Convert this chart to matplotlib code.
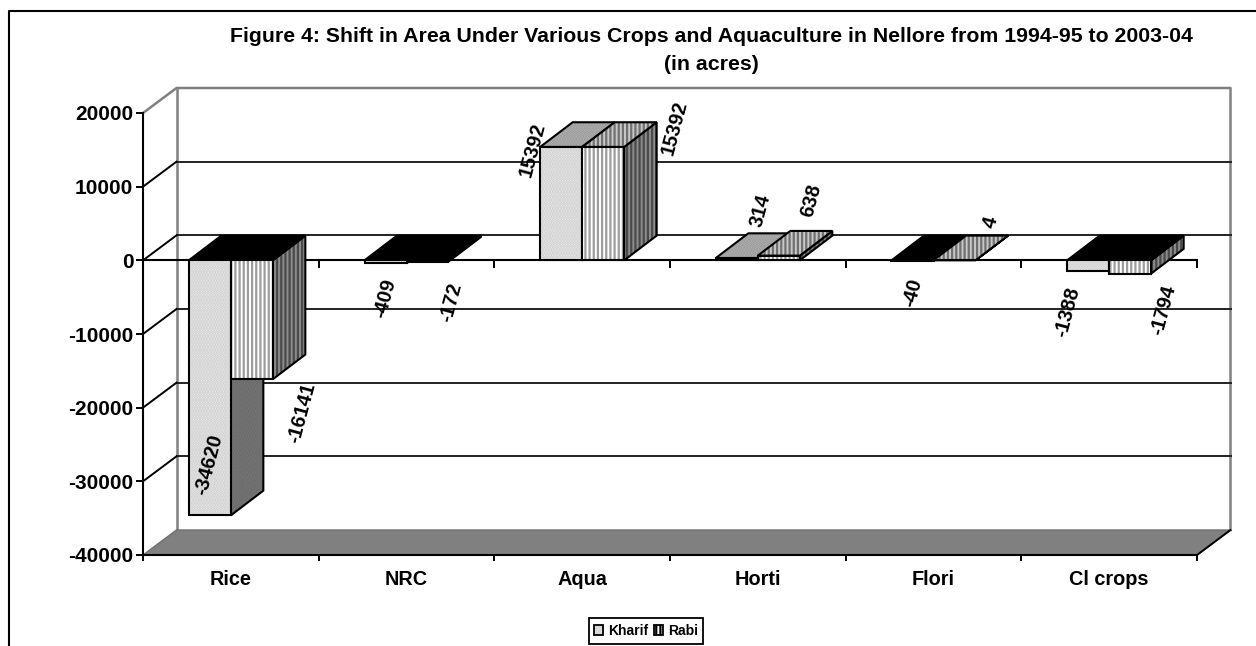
import matplotlib
matplotlib.use("Agg")
import matplotlib.pyplot as plt
from matplotlib.lines import Line2D
from matplotlib.patches import Polygon, Patch
from matplotlib.markers import TICKDOWN

categories = ["Rice", "NRC", "Aqua", "Horti", "Flori", "Cl crops"]
kharif = [-34620, -409, 15392, 314, -40, -1388]
rabi = [-16141, -172, 15392, 638, 4, -1794]
y_ticks = [-40000, -30000, -20000, -10000, 0, 10000, 20000]

# pixel offsets of the data labels from the front end of each bar
kharif_off = [(-1, 51), (0, -35), (-29, -3), (24, 47), (0, -32), (-21, -41)]
rabi_off = [(50, -34), (24, -41), (71, 19), (32, 55), (36, 38), (33, -37)]

W, H = 1256, 646
plt.rcParams["font.family"] = ["Liberation Sans", "DejaVu Sans"]
plt.rcParams["font.weight"] = "bold"
plt.rcParams["hatch.linewidth"] = 1.6

fig = plt.figure(figsize=(W / 100, H / 100), dpi=100, facecolor="white")
L, R, T, B = 143, 1197, 113, 555
ax = fig.add_axes([L / W, 1 - B / H, (R - L) / W, (B - T) / H])
ax.set_xlim(0, 6)
ax.set_ylim(-40000, 20000)
ax.patch.set_visible(False)

px_x = 6 / (R - L)
px_y = 60000 / (B - T)
DX, DY = 33.5 * px_x, 25 * px_y      # depth of the chart box
BX, BY = 32.5 * px_x, 24.7 * px_y    # depth of a bar
BW = 42 * px_x


def poly(pts, fc, hatch=None, hc="black", ec="black", lw=1.5, z=3):
    if hatch:
        ax.add_patch(Polygon(pts, closed=True, facecolor=fc, edgecolor=hc, hatch=hatch,
                             linewidth=0, clip_on=False, zorder=z))
        ax.add_patch(Polygon(pts, closed=True, fill=False, edgecolor=ec, linewidth=lw,
                             clip_on=False, zorder=z, joinstyle="miter"))
    else:
        ax.add_patch(Polygon(pts, closed=True, facecolor=fc, edgecolor=ec, linewidth=lw,
                             clip_on=False, zorder=z, joinstyle="miter"))


# back wall and floor
y_min, y_max = y_ticks[0], y_ticks[-1]
wall = dict(color="#808080", lw=1.8, clip_on=False, zorder=1, solid_capstyle="projecting")
ax.plot([0, DX, 6 + DX, 6 + DX], [y_max, y_max + DY, y_max + DY, y_min + DY], **wall)
ax.plot([DX, DX], [y_max + DY, y_min + DY], **wall)
for v in y_ticks[1:-1]:
    ax.plot([DX, 6 + DX], [v + DY, v + DY], color="#222222", lw=1.4, clip_on=False, zorder=1)
    ax.plot([0, DX], [v, v + DY], color="black", lw=1.4, clip_on=False, zorder=1)
poly([(0, y_min), (6, y_min), (6 + DX, y_min + DY), (DX, y_min + DY)], "#808080",
     ec="#707070", lw=1.0, z=1)
ax.plot([6, 6 + DX], [y_min, y_min + DY], color="black", lw=1.4, clip_on=False, zorder=1.5)

# zero axis
ax.plot([0, 6], [0, 0], color="black", lw=1.5, zorder=2, clip_on=False)
ax.plot(range(7), [0] * 7, ls="", marker=TICKDOWN, ms=6, mew=1.4, color="black", zorder=2,
        clip_on=False)

STYLES = {
    "k": dict(front=("#ececec", "......", "#cccccc"),
              side=("#7c7c7c", "......", "#666666"),
              top=("#b4b4b4", "......", "#989898")),
    "r": dict(front=("#ffffff", "||||", "#9c9c9c"),
              side=("#8c8c8c", "||||", "#4a4a4a"),
              top=("#c8c8c8", "||||", "#707070")),
}


def bar3d(x0, v, key, z):
    s = STYLES[key]
    x1 = x0 + BW
    # side face
    poly([(x1, 0), (x1 + BX, BY), (x1 + BX, v + BY), (x1, v)], s["side"][0],
         s["side"][1], s["side"][2], z=z)
    # top / cap
    cap = max(v, 0)
    pts = [(x0, cap), (x1, cap), (x1 + BX, cap + BY), (x0 + BX, cap + BY)]
    if v < 0:
        poly(pts, "black", z=z)
    else:
        poly(pts, s["top"][0], s["top"][1], s["top"][2], z=z)
    # front face
    poly([(x0, 0), (x1, 0), (x1, v), (x0, v)], s["front"][0], s["front"][1], s["front"][2], z=z)


for i in range(len(categories)):
    c = i + 0.5
    bar3d(c - BW, kharif[i], "k", 3 + i * 0.01)
    bar3d(c, rabi[i], "r", 3.005 + i * 0.01)

for i in range(len(categories)):
    c = i + 0.5
    for x, v, off in ((c - BW / 2, kharif[i], kharif_off[i]), (c + BW / 2, rabi[i], rabi_off[i])):
        ax.annotate(str(v), xy=(x, v), xytext=off, textcoords="offset pixels", rotation=75,
                    ha="center", va="center", fontsize=14.3, fontweight="bold", zorder=6,
                    annotation_clip=False)

# axes furniture
for s in ("top", "right"):
    ax.spines[s].set_visible(False)
for s in ("left", "bottom"):
    ax.spines[s].set_linewidth(1.5)
    ax.spines[s].set_zorder(5)
ax.set_yticks(y_ticks)
ax.set_yticklabels([str(v) for v in y_ticks], fontsize=15, fontweight="bold")
ax.tick_params(axis="y", length=5, width=1.4, pad=2)
ax.set_xticks(range(7))
ax.set_xticklabels([""] * 7)
ax.tick_params(axis="x", which="major", length=4.5, width=1.4)
ax.set_xticks([i + 0.5 for i in range(6)], minor=True)
ax.set_xticklabels(categories, minor=True, fontsize=14.3, fontweight="bold")
ax.tick_params(axis="x", which="minor", length=0, pad=10.5)

# title
fig.text(711 / W, 1 - 37 / H, "Figure 4: Shift in Area Under Various Crops and Aquaculture in Nellore from 1994-95 to 2003-04",
         ha="center", va="center", fontsize=15.3, fontweight="bold")
fig.text(711 / W, 1 - 64 / H, "(in acres)", ha="center", va="center", fontsize=15.3, fontweight="bold")

# chart-area frame (bottom and right are cut off by the picture edge)
fig.add_artist(Line2D([9 / W, 9 / W, 1], [0, 1 - 11 / H, 1 - 11 / H],
                      color="black", lw=1.5, transform=fig.transFigure))

# legend
handles = [Patch(facecolor="#d8d8d8", edgecolor="black", lw=1.3),
           Patch(facecolor="white", edgecolor="black", hatch="||||", lw=1.3)]
leg = fig.legend(handles, ["Kharif", "Rabi"], loc="center", bbox_to_anchor=(646 / W, 1 - 631 / H),
                 ncol=2, fontsize=10, frameon=True, fancybox=False, edgecolor="black",
                 framealpha=1, handlelength=0.65, handleheight=0.7, handletextpad=0.35,
                 columnspacing=0.4, borderpad=0.4, borderaxespad=0)
leg.get_frame().set_linewidth(1.3)
for t in leg.get_texts():
    t.set_fontweight("bold")

fig.savefig("out.png", dpi=100, facecolor="white")
